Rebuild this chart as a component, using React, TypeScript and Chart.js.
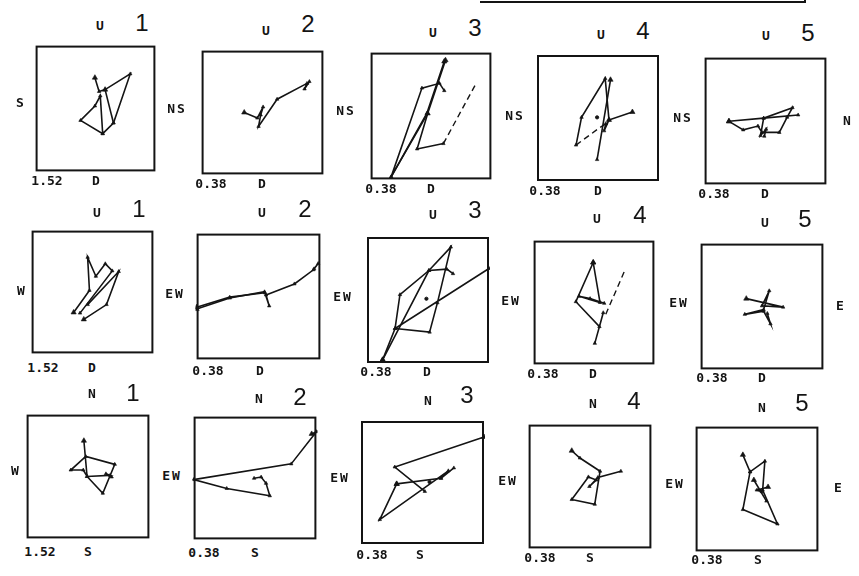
import React, { useEffect, useRef } from "react";
import { Chart, registerables } from "chart.js";

Chart.register(...registerables);

type Pt = [number, number];
type Trace = Pt[];

// Event numbers across the columns and the full-scale amplitude of each column
const events = ["1", "2", "3", "4", "5"];
const fullScale = ["1.52", "0.38", "0.38", "0.38", "0.38"];

// Captions of the three rows: vertical vs NS, vertical vs EW, horizontal plane
const topCaption = ["U", "U", "N"];
const bottomCaption = ["D", "D", "S"];
const sideCaptions = [
  ["S", "NS", "NS", "NS", "NS", "N"],
  ["W", "EW", "EW", "EW", "EW", "E"],
  ["W", "EW", "EW", "EW", "EW", "E"],
];

// Particle-motion traces, amplitudes normalised to each frame's full scale
const vertNS1: Trace[] = [
  [[-0.01, 0.49], [0.06, 0.27], [0.16, 0.3], [0.58, 0.55], [0.3, -0.23], [0.12, -0.4], [-0.25, -0.19], [-0.01, 0.04], [0.08, 0.2], [0.12, -0.4]],
  [[0.16, 0.3], [0.3, -0.23]],
];
const vertNS2: Trace[] = [
  [[-0.3, 0.0], [-0.085, -0.09], [0.01, 0.09], [-0.03, -0.04], [-0.065, -0.225], [0.24, 0.215], [0.73, 0.47], [0.69, 0.38], [0.77, 0.5]],
];
const vertNS3: Trace[] = [
  [[0.24, 0.88], [-0.055, 0.04], [-0.66, -0.96], [-0.15, 0.44], [0.14, 0.515], [0.22, 0.4]],
  [[0.22, 0.86], [-0.07, 0.04], [-0.66, -0.96]],
  [[-0.055, 0.04], [-0.23, -0.52], [0.205, -0.435]],
];
const vertNS3Dashed: Trace[] = [[[0.205, -0.435], [0.756, 0.53]]];
const vertNS4: Trace[] = [
  [[0.205, 0.607], [-0.015, -0.66]],
  [[0.564, 0.095], [0.18, -0.03], [0.118, 0.627], [-0.27, 0.01], [-0.36, -0.43]],
  [[0.18, -0.03], [0.1, -0.204], [0.128, -0.09]],
];
const vertNS4Dashed: Trace[] = [[[-0.36, -0.43], [0.026, -0.154], [0.128, -0.09]]];
const vertNS4Dots: Pt[] = [[-0.015, 0.01]];
const vertNS5: Trace[] = [
  [[-0.6, -0.005], [-0.03, 0.045], [0.536, 0.095]],
  [[-0.6, -0.005], [-0.366, -0.14], [-0.124, -0.08], [-0.057, -0.18], [0.227, -0.18], [0.356, 0.06], [0.443, 0.21], [-0.03, 0.045], [-0.082, -0.23], [0.01, -0.13], [-0.02, -0.24]],
];

const vertEW1: Trace[] = [
  [[-0.31, -0.333], [-0.05, 0.026], [-0.08, 0.564], [0.055, 0.256], [0.21, 0.46], [0.325, 0.344], [-0.205, -0.344]],
  [[-0.143, -0.446], [0.23, -0.205], [0.43, 0.333], [-0.08, -0.205]],
];
const vertEW2: Trace[] = [
  [[-1.0, -0.2], [-0.464, -0.025], [0.097, 0.075], [0.173, -0.15], [0.122, 0.025], [0.58, 0.2], [0.888, 0.425], [0.964, 0.525], [0.898, 0.44]],
  [[-1.0, -0.17], [-0.464, -0.01], [0.1, 0.06]],
];
const vertEW3: Trace[] = [
  [[-0.744, -0.95], [-0.54, -0.453], [-0.46, 0.085], [0.015, 0.468], [0.374, 0.84], [0.154, -0.045], [0.026, -0.51], [-0.54, -0.453], [1.0, 0.5]],
  [[-0.744, -0.95], [0.015, 0.468], [0.308, 0.49], [0.41, 0.418]],
];
const vertEW3Dots: Pt[] = [[-0.026, 0.02]];
const vertEW4: Trace[] = [
  [[-0.013, 0.646], [-0.3, 0.013], [0.09, -0.39], [0.153, -0.165], [0.013, -0.66]],
  [[-0.013, 0.646], [0.1, 0.0], [-0.247, 0.1], [-0.065, 0.063], [0.169, -0.013]],
];
const vertEW4Dashed: Trace[] = [[[0.195, -0.19], [0.517, 0.534]]];
const vertEW5: Trace[] = [
  [[-0.256, 0.125], [0.344, -0.01], [0.0, 0.01], [0.118, 0.25], [0.026, -0.05], [-0.28, -0.125], [0.026, -0.075], [0.138, -0.275], [0.087, -0.11]],
];

const horiz1: Trace[] = [
  [[-0.067, 0.578], [-0.015, 0.0], [0.241, -0.27], [0.436, 0.196], [-0.036, 0.323], [-0.28, 0.104], [-0.077, 0.104], [-0.015, 0.0], [0.359, 0.018], [0.292, 0.043], [0.385, -0.008]],
];
const horiz2: Trace[] = [
  [[0.923, 0.718], [1.0, 0.754], [0.59, 0.23], [-1.0, -0.026], [-0.46, -0.17], [0.241, -0.29], [0.18, -0.087], [0.1, 0.015], [-0.015, -0.005]],
];
const horiz3: Trace[] = [
  [[1.0, 0.74], [-0.45, 0.252], [0.038, -0.145]],
  [[-0.42, -0.023], [-0.695, -0.603], [0.42, 0.19], [0.3, 0.069], [0.51, 0.237]],
  [[-0.42, -0.023], [0.3, 0.069]],
];
const horiz3Dots: Pt[] = [[0.115, 0.008]];
const horiz4: Trace[] = [
  [[-0.297, 0.578], [-0.164, 0.46], [0.164, 0.247], [0.077, -0.287], [-0.297, -0.211], [-0.026, 0.155], [0.103, 0.104], [-0.01, 0.0], [0.128, 0.145], [0.503, 0.247]],
];
const horiz5: Trace[] = [
  [[-0.23, 0.547], [-0.113, 0.275], [0.128, 0.446], [0.092, -0.018], [0.333, -0.56], [-0.23, -0.33], [-0.113, 0.275]],
  [[-0.051, 0.144], [0.154, -0.194]],
  [[0.18, 0.033], [0.0, -0.018], [0.077, -0.043]],
];

type PanelData = { solid: Trace[]; dashed: Trace[]; dots: Pt[] };

const panelRows: PanelData[][] = [
  [
    { solid: vertNS1, dashed: [], dots: [] },
    { solid: vertNS2, dashed: [], dots: [] },
    { solid: vertNS3, dashed: vertNS3Dashed, dots: [] },
    { solid: vertNS4, dashed: vertNS4Dashed, dots: vertNS4Dots },
    { solid: vertNS5, dashed: [], dots: [] },
  ],
  [
    { solid: vertEW1, dashed: [], dots: [] },
    { solid: vertEW2, dashed: [], dots: [] },
    { solid: vertEW3, dashed: [], dots: vertEW3Dots },
    { solid: vertEW4, dashed: vertEW4Dashed, dots: [] },
    { solid: vertEW5, dashed: [], dots: [] },
  ],
  [
    { solid: horiz1, dashed: [], dots: [] },
    { solid: horiz2, dashed: [], dots: [] },
    { solid: horiz3, dashed: [], dots: horiz3Dots },
    { solid: horiz4, dashed: [], dots: [] },
    { solid: horiz5, dashed: [], dots: [] },
  ],
];

// Page layout: frame boxes [left, top, right, bottom] and caption centres
const frameBoxes = [
  [[32, 42, 159, 175], [198, 47, 327, 178], [367, 49, 495, 183], [533, 51, 663, 185], [701, 54, 830, 188]],
  [[28, 227, 157, 357], [193, 230, 324, 363], [363, 233, 493, 367], [530, 237, 658, 368], [697, 240, 827, 373]],
  [[23, 411, 153, 542], [190, 413, 320, 543], [357, 417, 488, 548], [525, 421, 655, 552], [692, 423, 822, 555]],
];
const topLetterPos = [
  [[100, 25], [266, 30], [433, 32], [601, 34], [766, 35]],
  [[97, 212], [262, 212], [433, 214], [597, 218], [765, 222]],
  [[92, 393], [259, 398], [428, 400], [593, 403], [762, 407]],
];
const eventNumPos = [
  [[142, 23], [308, 24], [475, 28], [643, 31], [808, 33]],
  [[139, 209], [305, 209], [475, 210], [640, 215], [805, 219]],
  [[133, 393], [300, 397], [467, 395], [634, 401], [802, 403]],
];
const sidePos = [
  [[20, 102], [177, 108], [346, 110], [515, 115], [683, 117], [847, 120]],
  [[21, 290], [175, 293], [343, 296], [511, 300], [679, 302], [840, 305]],
  [[15, 470], [172, 475], [340, 477], [508, 480], [675, 483], [838, 487]],
];
const scalePos = [
  [[47, 180], [211, 183], [381, 188], [545, 190], [714, 193]],
  [[43, 367], [208, 370], [376, 371], [543, 373], [712, 377]],
  [[40, 551], [204, 552], [372, 554], [540, 557], [707, 559]],
];
const bottomPos = [
  [[96, 180], [262, 183], [431, 188], [598, 190], [765, 193]],
  [[92, 367], [260, 370], [427, 371], [593, 373], [762, 377]],
  [[88, 551], [255, 552], [420, 554], [590, 557], [758, 559]],
];

const INK = "#141414";

const framePlugin = {
  id: "frame",
  afterDraw(chart: any) {
    const { ctx, chartArea } = chart;
    const { left, top, right, bottom } = chartArea;
    ctx.save();
    ctx.strokeStyle = INK;
    ctx.lineWidth = 2;
    ctx.strokeRect(left + 1, top + 1, right - left - 2, bottom - top - 2);
    ctx.restore();
  },
};

function toXY(t: Pt[]) {
  return t.map(([x, y]) => ({ x, y }));
}

function Frame({ box, data }: { box: number[]; data: PanelData }) {
  const ref = useRef<HTMLCanvasElement>(null);
  useEffect(() => {
    if (!ref.current) return;
    const datasets: any[] = [];
    data.solid.forEach((t) =>
      datasets.push({
        data: toXY(t),
        showLine: true,
        borderColor: INK,
        backgroundColor: INK,
        borderWidth: 1.6,
        pointStyle: "triangle",
        pointRadius: (c: any) => (c.dataIndex === 0 ? 3 : 2),
        pointBorderWidth: 0.6,
        clip: 1,
      })
    );
    data.dashed.forEach((t) =>
      datasets.push({
        data: toXY(t),
        showLine: true,
        borderColor: INK,
        borderWidth: 1.4,
        borderDash: [6, 4],
        pointRadius: 0,
        clip: 1,
      })
    );
    if (data.dots.length) {
      datasets.push({
        data: toXY(data.dots),
        showLine: false,
        pointStyle: "circle",
        pointRadius: 1.6,
        backgroundColor: INK,
        borderColor: INK,
      });
    }
    const chart = new Chart(ref.current, {
      type: "scatter",
      data: { datasets },
      options: {
        responsive: false,
        animation: false,
        events: [],
        layout: { padding: 0 },
        plugins: { legend: { display: false }, tooltip: { enabled: false } },
        scales: {
          x: { type: "linear", min: -1, max: 1, display: false },
          y: { type: "linear", min: -1, max: 1, display: false },
        },
      },
      plugins: [framePlugin],
    } as any);
    return () => chart.destroy();
  }, []);
  const [l, t, r, b] = box;
  return (
    <canvas
      ref={ref}
      width={r - l + 2}
      height={b - t + 2}
      style={{ position: "absolute", left: l - 1, top: t - 1 }}
    />
  );
}

function Label({ x, y, text, big }: { x: number; y: number; text: string; big?: boolean }) {
  const style: React.CSSProperties = big
    ? {
        fontFamily: "'Liberation Sans', sans-serif",
        fontSize: 24,
        fontWeight: 400,
      }
    : {
        fontFamily: "'DejaVu Sans Mono', monospace",
        fontSize: 13,
        fontWeight: 700,
        letterSpacing: text.length === 2 ? 2 : 0,
      };
  return (
    <span
      style={{
        position: "absolute",
        left: x,
        top: y,
        transform: "translate(-50%, -50%)",
        lineHeight: 1,
        color: INK,
        whiteSpace: "nowrap",
        ...style,
      }}
    >
      {text}
    </span>
  );
}

export default function App() {
  const items: React.ReactNode[] = [];
  panelRows.forEach((row, ri) => {
    row.forEach((panel, ci) => {
      items.push(<Frame key={`f${ri}-${ci}`} box={frameBoxes[ri][ci]} data={panel} />);
      const [ux, uy] = topLetterPos[ri][ci];
      items.push(<Label key={`u${ri}-${ci}`} x={ux} y={uy} text={topCaption[ri]} />);
      const [nx, ny] = eventNumPos[ri][ci];
      items.push(<Label key={`n${ri}-${ci}`} x={nx} y={ny} text={events[ci]} big />);
      const [sx, sy] = scalePos[ri][ci];
      items.push(<Label key={`s${ri}-${ci}`} x={sx} y={sy} text={fullScale[ci]} />);
      const [bx, by] = bottomPos[ri][ci];
      items.push(<Label key={`b${ri}-${ci}`} x={bx} y={by} text={bottomCaption[ri]} />);
    });
    sideCaptions[ri].forEach((txt, k) => {
      const [x, y] = sidePos[ri][k];
      items.push(<Label key={`side${ri}-${k}`} x={x} y={y} text={txt} />);
    });
  });
  return (
    <div
      style={{
        position: "absolute",
        left: 0,
        top: 0,
        width: 859,
        height: 576,
        overflow: "hidden",
        background: "#fff",
      }}
    >
      <div
        style={{
          position: "absolute",
          left: 480,
          top: -6,
          width: 324,
          height: 7,
          borderRight: `2px solid ${INK}`,
          borderBottom: `2px solid ${INK}`,
        }}
      />
      {items}
    </div>
  );
}
